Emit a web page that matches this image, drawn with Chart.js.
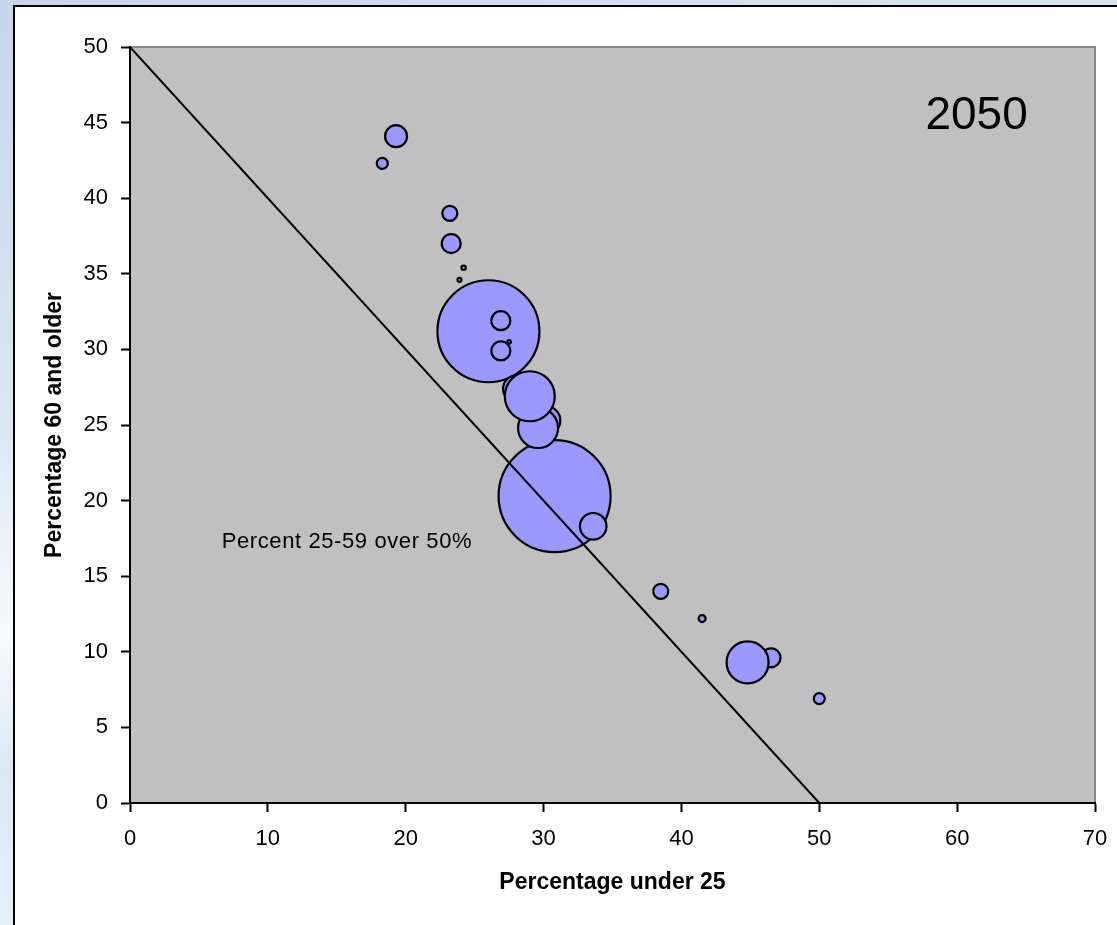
<!DOCTYPE html>
<html>
<head>
<meta charset="utf-8">
<script src="https://cdn.jsdelivr.net/npm/chart.js@4.4.1/dist/chart.umd.min.js"></script>
<style>
body{margin:0;width:1117px;height:925px;overflow:hidden;position:relative;
  background:linear-gradient(160deg,#c5d6ec 0%,#d9e5f3 30%,#f6f9fd 48%,#dde8f5 58%,#eef3fa 80%,#f4f7fb 100%);}
#frame{position:absolute;left:13px;top:5px;width:1200px;height:1000px;background:#fff;border:2px solid #000;}
#wrap{position:absolute;left:0;top:0;width:1117px;height:925px;}
</style>
</head>
<body>
<div id="frame"></div>
<div id="wrap"><canvas id="chart" width="1117" height="925"></canvas></div>
<script>
// values (bubble size = radius in px)
const under25 = [19.3, 18.3, 23.2, 23.3, 24.2, 23.9, 26.0, 26.9, 26.9, 27.5, 30.8, 28.0, 30.2, 29.6, 29.0, 33.6, 38.5, 41.5, 46.5, 44.8, 50.0];
const over60  = [44.1, 42.3, 39.0, 37.0, 35.4, 34.6, 31.2, 31.9, 29.9, 30.5, 20.3, 27.4, 25.3, 24.8, 26.9, 18.3, 14.0, 12.2, 9.6, 9.3, 6.9];
const bubbleSize = [11, 5.5, 7.5, 9.5, 2.2, 2, 51, 9.5, 9.5, 1.8, 56, 13, 14, 20, 25, 13.3, 7.5, 3.5, 9.5, 21, 5.5];

// reference line: 25-59 share = 50%
const lineX = [0, 50];
const lineY = [50, 0];

const xTicks = [0, 10, 20, 30, 40, 50, 60, 70];
const yTicks = [0, 5, 10, 15, 20, 25, 30, 35, 40, 45, 50];

const FONT = "'Liberation Sans', Arial, sans-serif";

// grey plot area with grey top/right edges
const plotBg = {
  id: 'plotBg',
  beforeDraw(chart){
    const {ctx, chartArea:a} = chart;
    ctx.save();
    ctx.fillStyle = '#c0c0c0';
    ctx.fillRect(a.left, a.top, a.right - a.left, a.bottom - a.top);
    ctx.strokeStyle = '#888';
    ctx.lineWidth = 2;
    ctx.beginPath();
    ctx.moveTo(a.left, a.top);
    ctx.lineTo(a.right, a.top);
    ctx.lineTo(a.right, a.bottom);
    ctx.stroke();
    ctx.restore();
  }
};

// texts placed in data units
const notes = {
  id: 'notes',
  afterDraw(chart){
    const {ctx, scales:{x, y}} = chart;
    ctx.save();
    ctx.fillStyle = '#000';
    ctx.textBaseline = 'alphabetic';
    ctx.font = '46px ' + FONT;
    ctx.fillText('2050', x.getPixelForValue(57.7), y.getPixelForValue(44.58));
    ctx.font = '22px ' + FONT;
    ctx.letterSpacing = '0.6px';
    ctx.fillText('Percent 25-59 over 50%', x.getPixelForValue(6.65), y.getPixelForValue(16.88));
    ctx.restore();
  }
};

const tickFont = {family: FONT, size: 22};
const titleFont = {family: FONT, size: 23, weight: 'bold', lineHeight: 1};

new Chart(document.getElementById('chart'), {
  type: 'bubble',
  data: {
    datasets: [
      {
        type: 'line',
        data: lineX.map((v, i) => ({x: v, y: lineY[i]})),
        borderColor: '#000',
        borderWidth: 2,
        pointRadius: 0,
        fill: false
      },
      {
        data: under25.map((v, i) => ({x: v, y: over60[i], r: bubbleSize[i]})),
        backgroundColor: '#9999ff',
        borderColor: '#000',
        borderWidth: 2.2
      }
    ]
  },
  options: {
    responsive: false,
    animation: false,
    events: [],
    layout: {autoPadding: false, padding: {top: 47, right: 22, left: 0, bottom: 0}},
    plugins: {legend: {display: false}, tooltip: {enabled: false}},
    scales: {
      x: {
        type: 'linear', min: 0, max: 70,
        afterBuildTicks: s => { s.ticks = xTicks.map(v => ({value: v})); },
        afterFit: s => { s.height = 122; s.paddingLeft = 0; s.paddingRight = 0; },
        grid: {drawOnChartArea: false, drawTicks: true, tickLength: 9, tickWidth: 2, tickColor: '#000'},
        border: {color: '#000', width: 2},
        ticks: {color: '#000', font: tickFont, padding: 14, maxRotation: 0},
        title: {display: true, text: 'Percentage under 25', color: '#000', font: titleFont, padding: {top: 0, bottom: 31}}
      },
      y: {
        type: 'linear', min: 0, max: 50,
        afterBuildTicks: s => { s.ticks = yTicks.map(v => ({value: v})); },
        afterFit: s => { s.width = 130; s.paddingTop = 0; s.paddingBottom = 0; },
        grid: {drawOnChartArea: false, drawTicks: true, tickLength: 9, tickWidth: 2, tickColor: '#000'},
        border: {color: '#000', width: 2},
        ticks: {color: '#000', font: tickFont, padding: 13},
        title: {display: true, text: 'Percentage 60 and older', color: '#000', font: titleFont, padding: {top: 43, bottom: 0}}
      }
    }
  },
  plugins: [plotBg, notes]
});
</script>
</body>
</html>
